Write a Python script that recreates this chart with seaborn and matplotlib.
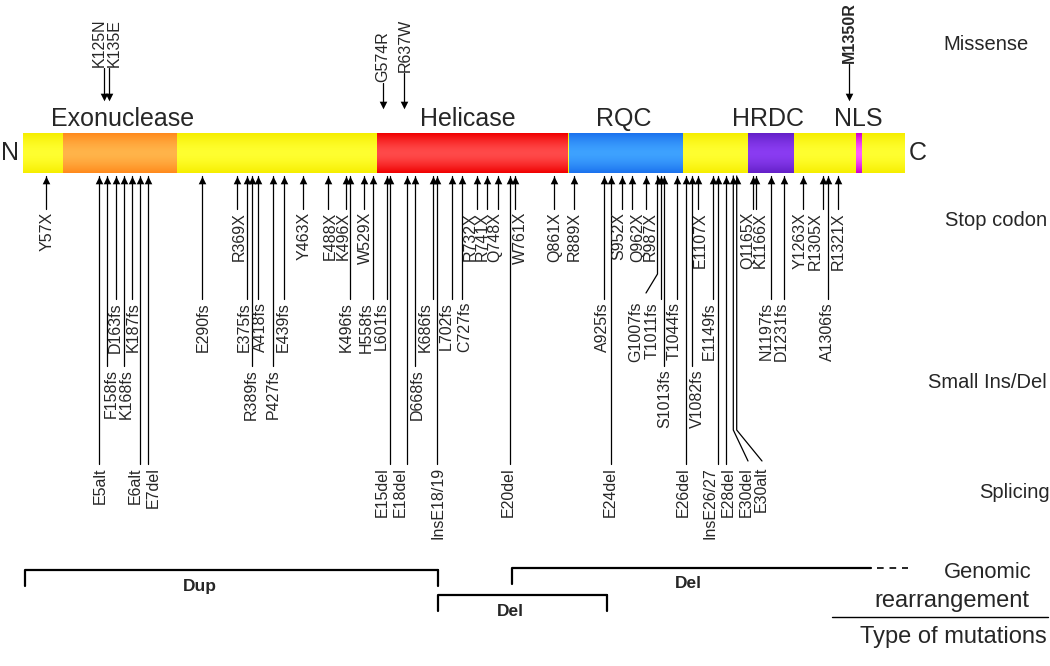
import numpy as np
import pandas as pd
import matplotlib
matplotlib.use("Agg")
import matplotlib.pyplot as plt
import seaborn as sns
from matplotlib.colors import to_rgb


# protein cartoon laid out on a 0-1050 drawing axis (not to residue scale)
protein_start, protein_end = 23, 905
domain_names = ["Exonuclease", "Helicase", "RQC", "HRDC", "NLS"]
domain_start = [63, 377, 569, 748, 856]
domain_end = [177, 568, 683, 794, 862]
domain_label_x = [123, 468, 624, 768, 858]

# missense (above the protein)
missense = ["K125N", "K135E", "G574R", "R637W", "M1350R"]
missense_x = [104, 108.7, 382.7, 404, 849]
missense_lx = [99.5, 114, 382.5, 405, 849]
missense_lbot = [67, 67, 82, 72, 63]
missense_tip = [100, 100, 108, 108, 100]

# stop codons
stop = ["Y57X", "R369X", "Y463X", "E488X", "K496X", "W529X", "R732X", "R741X",
        "Q748X", "W761X", "Q861X", "R889X", "S952X", "Q962X", "R987X", "E1107X",
        "Q1165X", "K1166X", "Y1263X", "R1305X", "R1321X"]
stop_x = [45.7, 237.3, 303.3, 327.7, 346, 364.3, 476.7, 487, 498, 515, 554.3,
          574.3, 621.5, 632, 646, 698.3, 752.7, 756, 802.7, 823.3, 838.3]
stop_lx = [46.7, 239, 304, 330, 343.5, 365, 470.5, 482.5, 494.5, 520, 555, 574,
           619, 637.5, 650, 700, 747.5, 760, 800, 815, 838.3]

# small ins/del, upper and lower label rows
fs_upper = ["D163fs", "K187fs", "E290fs", "E375fs", "A418fs", "E439fs", "K496fs",
            "H558fs", "L601fs", "K686fs", "L702fs", "C727fs", "A925fs", "G1007fs",
            "T1011fs", "T1044fs", "E1149fs", "N1197fs", "D1231fs", "A1306fs"]
fs_upper_x = [115.7, 132.3, 202, 247.3, 258.3, 284.3, 350, 373.3, 386.7, 432.7,
              451.7, 462.3, 604, 657.5, 660.7, 677.3, 713.3, 770.7, 784, 827.7]
fs_upper_lx = [115.7, 133, 203, 244, 260.7, 283, 346.7, 366.7, 381.7, 425,
               446.7, 465, 602.5, 635.7, 652.5, 674, 709, 765.8, 780.8, 827.5]

fs_lower = ["F158fs", "K168fs", "R389fs", "P427fs", "D668fs", "S1013fs", "V1082fs"]
fs_lower_x = [107, 124, 252.3, 273.3, 415.3, 664, 692]
fs_lower_lx = [110.8, 126.7, 251.7, 273.3, 417.5, 664.5, 697.5]

# splicing
splice = ["E5alt", "E6alt", "E7del", "E15del", "E18del", "InsE18/19", "E20del",
          "E24del", "E26del", "InsE26/27", "E28del", "E30del", "E30alt"]
splice_x = [99, 140, 147.7, 390, 406.7, 436.7, 510, 610.7, 686, 717.7, 726,
            733.3, 736.7]
splice_lx = [100, 135, 153.5, 382.5, 400, 437.5, 508, 610, 683.3, 710, 728,
             746.7, 761.7]

# genomic rearrangements
cnv_type = ["Dup", "Del", "Del"]
cnv_start = [25, 438, 512]
cnv_end = [438, 607, 871]
cnv_level = [570, 595, 568]
cnv_label_x = [200, 510, 688]

row_names = ["Missense", "Stop codon", "Small Ins/Del", "Splicing",
             "Genomic", "rearrangement", "Type of mutations"]


sns.set_style("white")
plt.rcParams["font.family"] = ["Liberation Sans", "DejaVu Sans"]

fig = plt.figure(figsize=(10.5, 6.66), dpi=100)
ax = fig.add_axes([0, 0, 1, 1])

bar_top, bar_bot = 133, 173


def shaded(x0, x1, center, edge, z):
	n = 60
	t = np.abs(np.linspace(-1, 1, n)) ** 1.6
	c = np.array(to_rgb(center))
	e = np.array(to_rgb(edge))
	img = c[None, :] * (1 - t[:, None]) + e[None, :] * t[:, None]
	ax.imshow(img[:, None, :], extent=[x0, x1, bar_bot, bar_top], aspect="auto",
			  interpolation="bilinear", zorder=z)


shaded(protein_start, protein_end, "#ffff30", "#f6ee00", 1)
dom_colors = [("#ffb44a", "#ff8a1c"), ("#ff4a4a", "#f00000"), ("#3ea2ff", "#1b72ee"),
			  ("#8a3cf2", "#6420c8"), ("#ff5cff", "#cc00cc")]
for s, e, (c1, c2) in zip(domain_start, domain_end, dom_colors):
	shaded(s, e, c1, c2, 2)

for name, lx in zip(domain_names, domain_label_x):
	ax.text(lx, 119, name, ha="center", va="center", fontsize=18)
ax.text(10, 153, "N", ha="center", va="center", fontsize=18)
ax.text(918, 153, "C", ha="center", va="center", fontsize=18)

lw = 0.9
lab_fs = 11.5

# missense
for name, x, lx, lb, tip in zip(missense, missense_x, missense_lx, missense_lbot, missense_tip):
	ax.plot([x, x], [lb + 1, tip - 4], color="black", lw=lw)
	ax.text(lx, lb, name, rotation=90, ha="center", va="bottom", fontsize=lab_fs,
			fontweight="bold" if name == "M1350R" else "normal")

bends = {"G1007fs": (274, 646, 293), "E30del": (430, 748, 461), "E30alt": (430, 762, 461)}


def below(names, xs, lxs, top):
	for name, x, lx in zip(names, xs, lxs):
		if name in bends:
			yb, xe, ye = bends[name]
			ax.plot([x, x, xe], [176, yb, ye], color="black", lw=lw)
		else:
			ax.plot([x, x], [176, top - 3], color="black", lw=lw)
		ax.text(lx, top, name, rotation=90, ha="center", va="top", fontsize=lab_fs)


below(stop, stop_x, stop_lx, 212)
below(fs_upper, fs_upper_x, fs_upper_lx, 302)
below(fs_lower, fs_lower_x, fs_lower_lx, 369)
below(splice, splice_x, splice_lx, 467)

# arrowheads
up = pd.DataFrame({"x": stop_x + fs_upper_x + fs_lower_x + splice_x})
up["y"] = 179.5
sns.scatterplot(data=up, x="x", y="y", marker="^", s=30, color="black",
				linewidth=0, ax=ax, legend=False, zorder=5)
down = pd.DataFrame({"x": missense_x, "y": np.array(missense_tip) - 3.5})
sns.scatterplot(data=down, x="x", y="y", marker="v", s=30, color="black",
				linewidth=0, ax=ax, legend=False, zorder=5)

# genomic rearrangements
for t, s, e, lev, lx in zip(cnv_type, cnv_start, cnv_end, cnv_level, cnv_label_x):
	ax.plot([s, s, e], [lev + 16, lev, lev], color="black", lw=1.6)
	if e < 850:
		ax.plot([e, e], [lev, lev + 16], color="black", lw=1.6)
	else:
		ax.plot([e + 6, 908], [lev, lev], color="black", lw=1.2, ls=(0, (4, 3.5)))
	ax.text(lx, lev + 16, t, ha="center", va="center", fontsize=12.5, fontweight="bold")

# row names on the right
row_pos = [(986, 45), (996, 221), (987, 383), (1014, 492), (988, 573), (952, 601), (953, 637)]
row_fs = [14.5, 14.5, 14.5, 14.5, 15.8, 17, 17]
for name, (rx, ry), f in zip(row_names, row_pos, row_fs):
	ax.text(rx, ry, name, ha="center", va="center", fontsize=f)
ax.plot([832, 1048], [617, 617], color="black", lw=1)

ax.set_xlim(0, 1050)
ax.set_ylim(666, 0)
ax.axis("off")

fig.savefig("out.png", dpi=100)
